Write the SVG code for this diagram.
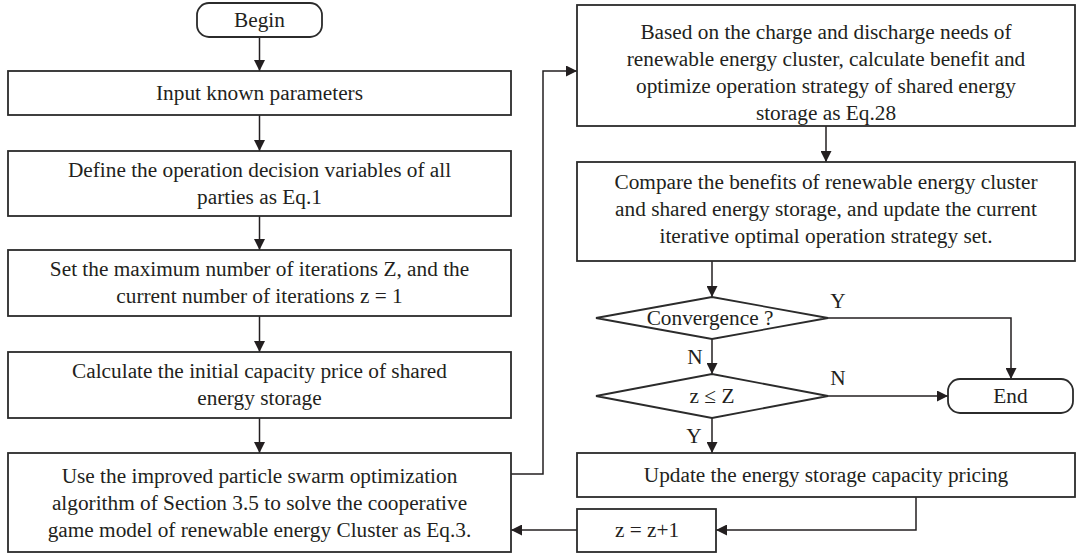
<svg xmlns="http://www.w3.org/2000/svg" width="1076" height="557" viewBox="0 0 1076 557">
<defs>
<style>
.box{fill:#fff;stroke:#2b2b2b;stroke-width:1.8}
.t{font-family:"Liberation Serif","Times New Roman",serif;font-size:21.3px;fill:#231f20;text-anchor:middle}
.c{fill:none;stroke:#231f20;stroke-width:1.5}
</style>
<marker id="ah" viewBox="0 0 10 10" refX="10" refY="5" markerWidth="11" markerHeight="11" markerUnits="userSpaceOnUse" orient="auto">
<path d="M0,0 L10,5 L0,10 z" fill="#231f20"/>
</marker>
</defs>
<rect width="1076" height="557" fill="#fff"/>
<g id="connectors">
<path class="c" d="M259.5,37 V71" marker-end="url(#ah)"/>
<path class="c" d="M259.5,115 V151" marker-end="url(#ah)"/>
<path class="c" d="M259.5,216 V250" marker-end="url(#ah)"/>
<path class="c" d="M259.5,316 V352" marker-end="url(#ah)"/>
<path class="c" d="M259.5,418 V453" marker-end="url(#ah)"/>
<path class="c" d="M511,474 H543 V71 H577" marker-end="url(#ah)"/>
<path class="c" d="M826,126 V162" marker-end="url(#ah)"/>
<path class="c" d="M712,261 V297" marker-end="url(#ah)"/>
<path class="c" d="M828,318 H1011 V379" marker-end="url(#ah)"/>
<path class="c" d="M712,339 V374" marker-end="url(#ah)"/>
<path class="c" d="M828,396 H948" marker-end="url(#ah)"/>
<path class="c" d="M712,418 V453" marker-end="url(#ah)"/>
<path class="c" d="M916,497 V530 H716" marker-end="url(#ah)"/>
<path class="c" d="M577,530 H511" marker-end="url(#ah)"/>
<text class="t" x="838" y="308">Y</text>
<text class="t" x="695" y="364">N</text>
<text class="t" x="838" y="385">N</text>
<text class="t" x="694" y="443">Y</text>
</g>
<g id="begin">
<rect class="box" x="197" y="3" width="125" height="34" rx="12"/>
<text class="t" x="259.5" y="27">Begin</text>
</g>
<g id="input">
<rect class="box" x="8" y="71" width="503" height="44"/>
<text class="t" x="259.5" y="100">Input known parameters</text>
</g>
<g id="define">
<rect class="box" x="8" y="151" width="503" height="65"/>
<text class="t" x="259.5" y="177">Define the operation decision variables of all</text>
<text class="t" x="259.5" y="204">parties as Eq.1</text>
</g>
<g id="setmax">
<rect class="box" x="8" y="250" width="503" height="66"/>
<text class="t" x="259.5" y="276">Set the maximum number of iterations Z, and the</text>
<text class="t" x="259.5" y="303">current number of iterations z = 1</text>
</g>
<g id="initprice">
<rect class="box" x="8" y="352" width="503" height="66"/>
<text class="t" x="259.5" y="378">Calculate the initial capacity price of shared</text>
<text class="t" x="259.5" y="405">energy storage</text>
</g>
<g id="pso">
<rect class="box" x="8" y="453" width="503" height="99"/>
<text class="t" x="259.5" y="483">Use the improved particle swarm optimization</text>
<text class="t" x="259.5" y="510">algorithm of Section 3.5 to solve the cooperative</text>
<text class="t" x="259.5" y="537">game model of renewable energy Cluster as Eq.3.</text>
</g>
<g id="storage">
<rect class="box" x="577" y="5" width="498" height="121"/>
<text class="t" x="826" y="39">Based on the charge and discharge needs of</text>
<text class="t" x="826" y="66">renewable energy cluster, calculate benefit and</text>
<text class="t" x="826" y="93">optimize operation strategy of shared energy</text>
<text class="t" x="826" y="120">storage as Eq.28</text>
</g>
<g id="compare">
<rect class="box" x="577" y="162" width="498" height="99"/>
<text class="t" x="826" y="188.5">Compare the benefits of renewable energy cluster</text>
<text class="t" x="826" y="215.5">and shared energy storage, and update the current</text>
<text class="t" x="826" y="242.5">iterative optimal operation strategy set.</text>
</g>
<g id="convergence">
<polygon class="box" points="596,318 712,297 828,318 712,339"/>
<text class="t" x="710" y="325">Convergence ?</text>
</g>
<g id="zcheck">
<polygon class="box" points="596,396 712,374 828,396 712,418"/>
<text class="t" x="712" y="403">z ≤ Z</text>
</g>
<g id="end">
<rect class="box" x="948" y="379" width="125" height="34" rx="12"/>
<text class="t" x="1010.5" y="403">End</text>
</g>
<g id="update">
<rect class="box" x="577" y="453" width="498" height="44"/>
<text class="t" x="826" y="482">Update the energy storage capacity pricing</text>
</g>
<g id="increment">
<rect class="box" x="577" y="509" width="139" height="43"/>
<text class="t" x="647" y="537">z = z+1</text>
</g>
</svg>
